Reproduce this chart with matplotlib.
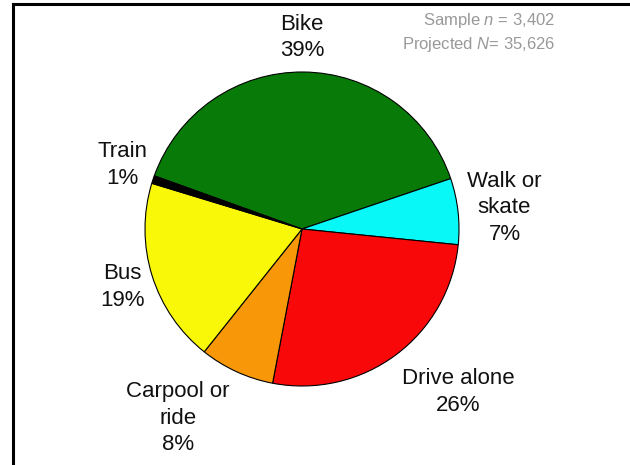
import matplotlib
matplotlib.use("Agg")
import matplotlib.pyplot as plt
from matplotlib.lines import Line2D

plt.rcParams['font.family'] = ['Liberation Sans', 'DejaVu Sans']
plt.rcParams['mathtext.fontset'] = 'custom'
plt.rcParams['mathtext.it'] = 'Liberation Sans:italic'
plt.rcParams['mathtext.rm'] = 'Liberation Sans'

# commute mode shares (percent), clockwise from the Bike slice
modes = ["Bike", "Walk or\nskate", "Drive alone", "Carpool or\nride", "Bus", "Train"]
shares = [39.3, 6.8, 26.4, 7.7, 19.0, 0.8]
pct_labels = ["39%", "7%", "26%", "8%", "19%", "1%"]
colors = ["#087a08", "#08f8f8", "#f80808", "#f89808", "#f8f808", "#000000"]

# label positions in pie units (radius = 1)
label_pos = [(0.0, 1.22), (1.29, 0.134), (0.994, -1.038),
             (-0.79, -1.204), (-1.146, -0.369), (-1.146, 0.408)]

W, H = 630, 465
fig = plt.figure(figsize=(W / 100, H / 100), dpi=100)

cx, cy, r = 302, 229, 157
ax = fig.add_axes([(cx - r) / W, (H - cy - r) / H, 2 * r / W, 2 * r / H])
ax.pie(shares, colors=colors, startangle=160.2, counterclock=False,
       radius=1, wedgeprops=dict(edgecolor="black", linewidth=0.8))
ax.set_xlim(-1, 1)
ax.set_ylim(-1, 1)
ax.set_aspect("equal")
ax.axis("off")

for m, p, (x, y) in zip(modes, pct_labels, label_pos):
    ax.text(x, y, m + "\n" + p, ha="center", va="center", fontsize=16,
            linespacing=1.35, color="#111111", clip_on=False)

# frame lines (top and left only visible)
fig.add_artist(Line2D([13 / W, 1.0], [1 - 4 / H, 1 - 4 / H], color="black",
                      linewidth=2.2, transform=fig.transFigure))
fig.add_artist(Line2D([13 / W, 13 / W], [0, 1 - 4 / H], color="black",
                      linewidth=2.2, transform=fig.transFigure))

fig.text(555 / W, 1 - 21 / H, r"Sample $n$ = 3,402", ha="right", va="center",
         fontsize=12, color="#999999")
fig.text(555 / W, 1 - 44 / H, r"Projected $N$= 35,626", ha="right", va="center",
         fontsize=12, color="#999999")

fig.savefig("out.png", dpi=100)
